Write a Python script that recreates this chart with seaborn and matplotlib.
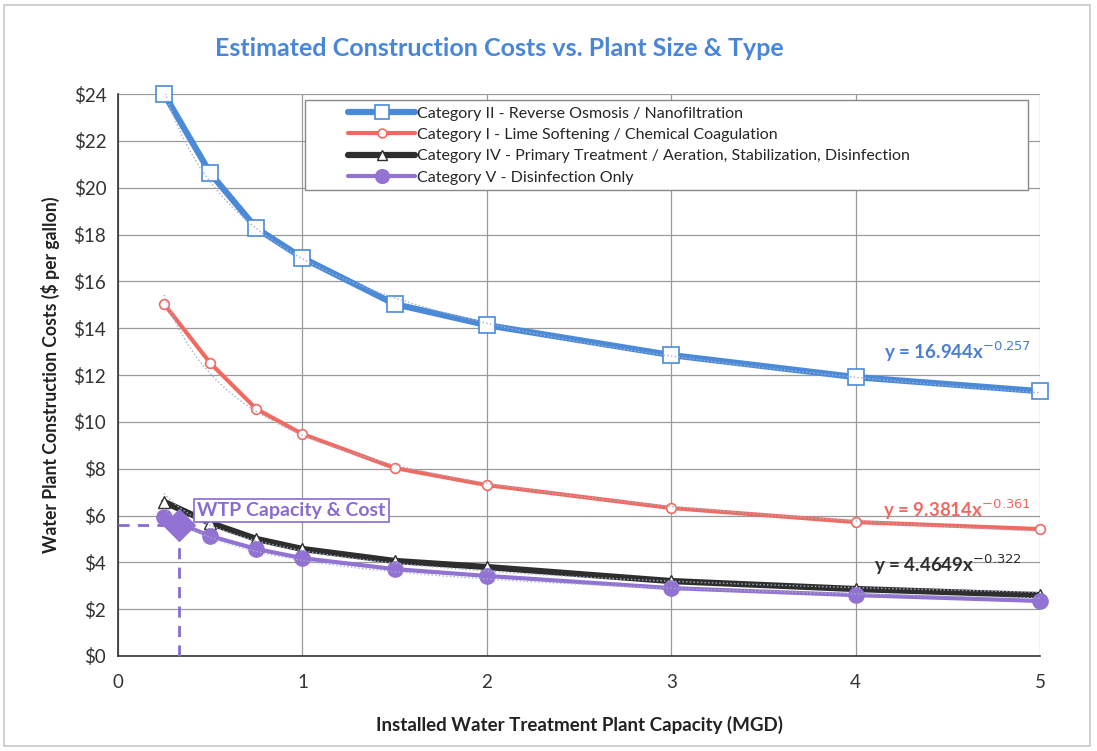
import numpy as np
import pandas as pd
import matplotlib
matplotlib.use('Agg')
import matplotlib.pyplot as plt
import seaborn as sns
from matplotlib.lines import Line2D
from matplotlib.patches import Rectangle

# Plant capacity (MGD)
capacity = [0.25, 0.5, 0.75, 1, 1.5, 2, 3, 4, 5]

# Construction cost ($ per gallon)
cat_ii = [24.0, 20.62, 18.27, 17.0, 15.03, 14.13, 12.85, 11.91, 11.31]
cat_i = [15.03, 12.51, 10.55, 9.48, 8.03, 7.30, 6.32, 5.72, 5.42]
cat_iv = [6.58, 5.68, 5.0, 4.57, 4.06, 3.80, 3.20, 2.86, 2.60]
cat_v = [5.93, 5.12, 4.57, 4.18, 3.71, 3.42, 2.90, 2.60, 2.35]

labels = [
    'Category II - Reverse Osmosis / Nanofiltration',
    'Category I - Lime Softening / Chemical Coagulation',
    'Category IV - Primary Treatment / Aeration, Stabilization, Disinfection',
    'Category V - Disinfection Only',
]

# WTP point
wtp_x = 0.33
wtp_y = 5.6

sns.set_theme(style="white")
plt.rcParams['font.family'] = ['Lato', 'DejaVu Sans']

fig = plt.figure(figsize=(10.97, 7.51), dpi=100)
ax = fig.add_axes([0.1076, 0.1265, 0.8405, 0.7483])

colors = ['#4a8ad8', '#f06a62', '#2e2e2e', '#9272d2']
styles = [
    dict(marker='s', lw=4.5, ms=11, mfc='white', mec='#4a8ad8', mew=1.2),
    dict(marker='o', lw=3.0, ms=7, mfc='white', mec='#f06a62', mew=1.2),
    dict(marker='^', lw=4.5, ms=8, mfc='white', mec='#2e2e2e', mew=1.0),
    dict(marker='o', lw=3.0, ms=11, mfc='#9272d2', mec='#9272d2', mew=1.0),
]
series = [cat_ii, cat_i, cat_iv, cat_v]

df = pd.DataFrame({'capacity': capacity * 4,
                   'cost': cat_ii + cat_i + cat_iv + cat_v,
                   'category': np.repeat(labels, len(capacity))})

handles = []
for lab, col, st, vals in zip(labels, colors, styles, series):
    sub = df[df['category'] == lab]
    sns.lineplot(data=sub, x='capacity', y='cost', ax=ax, color=col,
                 linewidth=st['lw'], marker=st['marker'], markersize=st['ms'],
                 markerfacecolor=st['mfc'], markeredgecolor=st['mec'],
                 markeredgewidth=st['mew'], clip_on=False, zorder=4)
    # power trendline, fitted on the points
    b, a = np.polyfit(np.log(capacity), np.log(vals), 1)
    xs = np.linspace(0.25, 5, 200)
    ax.plot(xs, np.exp(a) * xs ** b, ls=':', lw=1.0, color='#a4b0c4', zorder=5)
    handles.append(Line2D([], [], color=col, lw=st['lw'], marker=st['marker'],
                          ms=st['ms'] * 0.9, mfc=st['mfc'], mec=st['mec'], mew=st['mew']))

# WTP capacity & cost marker with guide lines
ax.plot([0, wtp_x], [wtp_y, wtp_y], ls=(0, (4, 3)), color='#8a6bd0', lw=2, zorder=3, clip_on=False)
ax.plot([wtp_x, wtp_x], [0, wtp_y], ls=(0, (4, 3)), color='#8a6bd0', lw=2, zorder=3, clip_on=False)
ax.scatter([wtp_x], [wtp_y], marker='D', s=260, color='#9272d2', zorder=6)
ax.text(0.43, 6.2, 'WTP Capacity & Cost', color='#8a6bd0', fontsize=14, fontweight='bold',
        va='center', ha='left',
        bbox=dict(boxstyle='square,pad=0.15', fc='white', ec='#8a6bd0', lw=1.2), zorder=7)

# equation labels
ax.text(4.55, 13.0, 'y = 16.944x$^{-0.257}$', color='#4a7fd0', fontsize=13.5, fontweight='bold', ha='center', va='center')
ax.text(4.55, 6.25, 'y = 9.3814x$^{-0.361}$', color='#f06a62', fontsize=13.5, fontweight='bold', ha='center', va='center')
ax.text(4.5, 3.9, 'y = 4.4649x$^{-0.322}$', color='#2e2e2e', fontsize=13.5, fontweight='bold', ha='center', va='center')

ax.set_xlim(0, 5)
ax.set_ylim(0, 24)
ax.set_xticks(range(6))
ax.set_xticks(np.arange(0, 5.01, 0.25), minor=True)
ax.set_yticks(range(0, 25, 2))
ax.set_yticks(np.arange(0, 24.01, 0.5), minor=True)
ax.set_yticklabels([f'${v}' for v in range(0, 25, 2)])
ax.tick_params(axis='both', which='major', labelsize=13.5, colors='#333333', length=5, direction='out')
ax.tick_params(axis='both', which='minor', length=3, color='#555555')
ax.tick_params(axis='x', pad=8)
ax.grid(True, which='major', color='#9a9a9a', lw=0.9)
for s in ['top', 'right']:
    ax.spines[s].set_visible(False)
for s in ['left', 'bottom']:
    ax.spines[s].set_color('#333333')
    ax.spines[s].set_linewidth(1.2)

ax.set_xlabel('Installed Water Treatment Plant Capacity (MGD)', fontsize=13.5, fontweight='bold',
              color='#222222', labelpad=18)
ax.set_ylabel('Water Plant Construction Costs ($ per gallon)', fontsize=12.7, fontweight='bold',
              color='#222222', labelpad=10)

# legend frame drawn separately so it has the wide left margin of the original
ax.add_patch(Rectangle((0.203, 0.829), 0.784, 0.160, transform=ax.transAxes,
                       fc='white', ec='#888888', lw=1.0, zorder=9))
leg = ax.legend(handles, labels, loc='upper left', bbox_to_anchor=(0.235, 1.002),
                fontsize=11.5, frameon=False, handlelength=4.2,
                handletextpad=0.1, borderpad=0.35, labelspacing=0.45)
leg.set_zorder(10)

fig.text(0.455, 0.935, 'Estimated Construction Costs vs. Plant Size & Type', color='#4a86d8',
         fontsize=18, fontweight='bold', ha='center', va='center')

fig.patches.append(Rectangle((0.004, 0.006), 0.99, 0.987, transform=fig.transFigure,
                             fill=False, ec='#c8c8c8', lw=1.2))

fig.savefig('out.png', dpi=100)
